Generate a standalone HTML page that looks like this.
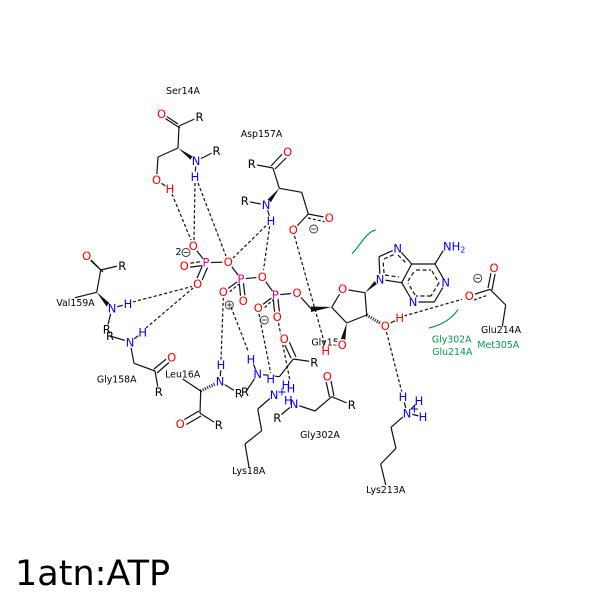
<!DOCTYPE html>
<html><head><meta charset="utf-8"><style>
html,body{margin:0;padding:0;background:#fff;width:600px;height:600px;overflow:hidden}
svg{display:block}
.b line,.b path{stroke:#111;stroke-width:1.2;fill:none}
.d line{stroke:#111;stroke-width:1.2;stroke-dasharray:3.2 2.2;fill:none}
.a text{font:11.5px "DejaVu Sans",sans-serif;text-anchor:middle;dominant-baseline:central}
.l text{font:9.4px "DejaVu Sans",sans-serif;text-anchor:middle;dominant-baseline:central;fill:#000}
.g text{font:9.4px "DejaVu Sans",sans-serif;text-anchor:middle;dominant-baseline:central;fill:#00994d}
.o{fill:#ff0000}.n{fill:#0000ff}.p{fill:#e6009a}.k{fill:#000}
.w circle{fill:#fff}
</style></head><body>
<svg width="600" height="600" viewBox="0 0 600 600" xmlns="http://www.w3.org/2000/svg">
<rect width="600" height="600" fill="#fff"/>
<g class="b">
<!-- Ser14A -->
<line x1="160" y1="112" x2="178" y2="124"/><line x1="163" y1="117" x2="180" y2="128"/>
<line x1="179" y1="126" x2="199" y2="117"/><line x1="179" y1="126" x2="178" y2="148"/>
<line x1="178" y1="148" x2="158" y2="157"/><line x1="158" y1="157" x2="156.5" y2="180"/>
<line x1="196" y1="161" x2="216" y2="151"/><line x1="196" y1="161" x2="195" y2="177"/>
<line x1="156.5" y1="180" x2="170" y2="189"/>
<!-- Asp157A -->
<line x1="286" y1="150" x2="271" y2="166"/><line x1="290" y1="154" x2="275" y2="169"/>
<line x1="252" y1="164" x2="273" y2="168"/><line x1="273" y1="168" x2="279.3" y2="188.3"/>
<line x1="279.3" y1="188.3" x2="301.7" y2="192.3"/><line x1="301.7" y1="192.3" x2="308.3" y2="214"/>
<line x1="308.3" y1="214" x2="329" y2="218"/><line x1="308" y1="218" x2="326" y2="222" stroke-dasharray="3 2"/>
<line x1="308.3" y1="214" x2="293.3" y2="230"/>
<line x1="245" y1="201" x2="266" y2="205"/><line x1="266" y1="205" x2="271" y2="221"/>
<!-- Val159A -->
<line x1="85" y1="254" x2="99" y2="268"/><line x1="88" y1="258" x2="103" y2="272"/>
<line x1="100.7" y1="270" x2="122" y2="265"/><line x1="100.7" y1="270" x2="96.7" y2="292.3"/>
<line x1="96.7" y1="292.3" x2="75" y2="297.7"/>
<line x1="112" y1="308" x2="107" y2="329"/><line x1="112" y1="308" x2="128" y2="304"/>
<!-- Gly158A -->
<line x1="110" y1="336" x2="130" y2="342"/><line x1="130" y1="342" x2="142.7" y2="332.3"/>
<line x1="130" y1="342" x2="134" y2="363.3"/><line x1="134" y1="363.3" x2="155" y2="371"/>
<line x1="154" y1="369" x2="170" y2="356"/><line x1="157" y1="373" x2="173" y2="359"/>
<line x1="155" y1="371" x2="158.7" y2="392"/>
<!-- Leu16A -->
<line x1="182.7" y1="379" x2="200.7" y2="391"/><line x1="200.7" y1="391" x2="200" y2="413.3"/>
<line x1="199" y1="411" x2="180" y2="422"/><line x1="201" y1="416" x2="182" y2="427"/>
<line x1="200" y1="413.3" x2="218.7" y2="425"/>
<line x1="220" y1="381.7" x2="238.7" y2="393.3"/><line x1="220" y1="381.7" x2="221" y2="365"/>
<!-- Lys/Gly ambiguous group -->
<line x1="257.7" y1="374" x2="245.7" y2="392"/><line x1="257.7" y1="374" x2="251" y2="359"/>
<line x1="257.7" y1="374" x2="279.3" y2="376.7"/><line x1="279.3" y1="376.7" x2="293.3" y2="359"/>
<line x1="282" y1="339" x2="291" y2="358"/><line x1="287" y1="337" x2="296" y2="357"/>
<line x1="293.3" y1="359" x2="314" y2="362"/>
<!-- Lys18A -->
<line x1="274" y1="395" x2="257.7" y2="409"/><line x1="257.7" y1="409" x2="261.7" y2="430.7"/>
<line x1="261.7" y1="430.7" x2="245" y2="444"/><line x1="245" y1="444" x2="249" y2="467"/>
<!-- Gly302A -->
<line x1="294" y1="404" x2="277.3" y2="418"/><line x1="294" y1="404" x2="315" y2="411"/>
<line x1="315" y1="411" x2="331.7" y2="396.7"/>
<line x1="325" y1="377" x2="329.5" y2="397"/><line x1="330" y1="376" x2="334" y2="396"/>
<line x1="331.7" y1="396.7" x2="351.7" y2="405"/>
<!-- Phosphates -->
<line x1="193.3" y1="246" x2="206" y2="262.7"/>
<line x1="184.3" y1="264" x2="206" y2="261" stroke-dasharray="4 2"/><line x1="184.3" y1="268" x2="206" y2="265"/>
<line x1="195" y1="283" x2="204" y2="262"/><line x1="200" y1="285" x2="209" y2="264"/>
<line x1="206" y1="262.7" x2="228.3" y2="262"/><line x1="228.3" y1="262" x2="241" y2="279"/>
<line x1="241" y1="279" x2="262.3" y2="277"/>
<line x1="223.3" y1="292" x2="241" y2="279"/><line x1="226" y1="295" x2="239" y2="284" stroke-dasharray="3 2"/>
<line x1="239" y1="280" x2="241" y2="301"/><line x1="243" y1="279" x2="245.5" y2="301"/>
<line x1="262.3" y1="277" x2="275.3" y2="295"/><line x1="275.3" y1="295" x2="297" y2="293"/>
<line x1="258.3" y1="308" x2="275.3" y2="295"/><line x1="261" y1="311" x2="273" y2="300" stroke-dasharray="3 2"/>
<line x1="273" y1="296" x2="275" y2="317"/><line x1="277.5" y1="295" x2="280" y2="317"/>
<line x1="297" y1="293" x2="311.7" y2="309.3"/>
<!-- Ribose -->
<line x1="331.7" y1="307.3" x2="342.7" y2="289"/><line x1="342.7" y1="289" x2="365" y2="292.7"/>
<line x1="365" y1="292.7" x2="366.7" y2="315"/><line x1="366.7" y1="315" x2="346.7" y2="323"/>
<line x1="346.7" y1="323" x2="331.7" y2="307.3"/>
<!-- O2' H -->
<line x1="385.3" y1="326" x2="399.7" y2="318"/>
<!-- Adenine -->
<line x1="380" y1="279.3" x2="379" y2="256.7"/><line x1="379" y1="256.7" x2="397.7" y2="248.3"/>
<line x1="397.7" y1="248.3" x2="411.7" y2="264"/><line x1="411.7" y1="264" x2="435" y2="264"/>
<line x1="435" y1="264" x2="445.7" y2="282.7"/><line x1="445.7" y1="282.7" x2="434.3" y2="302"/>
<line x1="434.3" y1="302" x2="413" y2="302"/><line x1="413" y1="302" x2="401.7" y2="282.7"/>
<line x1="401.7" y1="282.7" x2="411.7" y2="264"/><line x1="401.7" y1="282.7" x2="380" y2="279.3"/>
<line x1="435" y1="264" x2="446" y2="246"/>
<g stroke-dasharray="4 2.5">
<line x1="416" y1="270" x2="431" y2="270"/><line x1="432" y1="271" x2="439" y2="283"/>
<line x1="439" y1="283" x2="431" y2="296"/><line x1="431" y1="296" x2="416" y2="296"/>
<line x1="415" y1="295" x2="408" y2="283"/><line x1="408" y1="281" x2="415" y2="270"/>
<line x1="384" y1="273" x2="383" y2="260"/><line x1="384" y1="259" x2="395" y2="254"/>
<line x1="398" y1="255" x2="406" y2="263"/><line x1="385" y1="275" x2="399" y2="277"/>
</g>
<!-- Glu214A -->
<line x1="469.3" y1="296" x2="490" y2="289.3"/><line x1="474" y1="300" x2="488" y2="295" stroke-dasharray="3 2"/>
<line x1="488" y1="288" x2="492" y2="268"/><line x1="492" y1="290" x2="496" y2="269"/>
<line x1="490" y1="289.3" x2="505.7" y2="305"/><line x1="505.7" y1="305" x2="502.3" y2="326.7"/>
<!-- Lys213A -->
<line x1="407" y1="413.3" x2="403" y2="397"/><line x1="407" y1="413.3" x2="391" y2="427.3"/>
<line x1="391" y1="427.3" x2="396" y2="448.3"/><line x1="396" y1="448.3" x2="380.7" y2="464"/>
<line x1="380.7" y1="464" x2="385.7" y2="485"/>
<line x1="407" y1="413" x2="419" y2="401"/><line x1="407" y1="413" x2="423" y2="417"/>
</g>
<!-- wedges -->
<g fill="#111">
<polygon points="178,148 197,159 194,163"/>
<polygon points="279.3,188.3 268,207 264,203"/>
<polygon points="96.7,292.3 113,306 109,310"/>
<polygon points="365,292.7 381,281 378,277"/>
<polygon points="346.7,323 345,345 339,344"/>
<polygon points="331.7,307 311,306.5 311,312"/>
</g>
<g fill="none" stroke="#111" stroke-width="3.2" stroke-dasharray="1 1.4">
<line x1="200.7" y1="391" x2="218" y2="382.5"/>
<line x1="366.7" y1="315" x2="385" y2="326"/>
</g>
<!-- dashed h-bonds -->
<g class="d">
<line x1="172" y1="194" x2="191" y2="240"/><line x1="195" y1="183" x2="194" y2="240"/>
<line x1="198" y1="183" x2="226" y2="256"/>
<line x1="269.7" y1="226" x2="263.5" y2="270"/><line x1="266" y1="225.7" x2="233" y2="258"/>
<line x1="294.5" y1="236" x2="325" y2="345"/>
<line x1="132.7" y1="302" x2="192" y2="286.5"/><line x1="145.7" y1="328.3" x2="193" y2="288"/>
<line x1="221" y1="360" x2="223.3" y2="298"/><line x1="231" y1="307" x2="248.5" y2="352"/>
<line x1="259" y1="314" x2="270.7" y2="373"/><line x1="278.5" y1="323" x2="290" y2="381"/>
<line x1="404" y1="316" x2="462" y2="299.3"/><line x1="386.5" y1="332" x2="401.7" y2="391.7"/>
</g>
<!-- green arcs -->
<g fill="none" stroke="#00994d" stroke-width="1.2">
<path d="M352 253.7 C360 246 366 232 375.7 230"/>
<path d="M429 328 C441 325 452 319 458 309.3"/>
</g>
<!-- white knockouts -->
<g class="w">
<circle cx="161.5" cy="114" r="6"/><circle cx="199.5" cy="117" r="5.5"/><circle cx="196" cy="161" r="5.5"/><circle cx="216.5" cy="151" r="5.5"/>
<circle cx="156.5" cy="180" r="6"/><circle cx="170" cy="189" r="5.5"/><circle cx="195" cy="177" r="5.5"/>
<circle cx="287.7" cy="152" r="6"/><circle cx="251.7" cy="164" r="5.5"/><circle cx="329.3" cy="218" r="6"/><circle cx="293.3" cy="230" r="6"/>
<circle cx="266" cy="205" r="5.5"/><circle cx="244.7" cy="201" r="5.5"/><circle cx="271" cy="221" r="5.5"/>
<circle cx="86.7" cy="256" r="6"/><circle cx="122.3" cy="266" r="5.5"/><circle cx="112" cy="308.3" r="5.5"/><circle cx="128" cy="304" r="5.5"/>
<circle cx="106.7" cy="329.3" r="5"/><circle cx="130" cy="342.3" r="5.5"/><circle cx="142.7" cy="332.3" r="5.5"/>
<circle cx="171.7" cy="357.3" r="6"/><circle cx="158.7" cy="392" r="5.5"/><circle cx="220" cy="381.7" r="5.5"/><circle cx="221" cy="365" r="5.5"/>
<circle cx="238.7" cy="393.3" r="5.5"/><circle cx="180.3" cy="424" r="6"/><circle cx="218.7" cy="425" r="5.5"/>
<circle cx="257.7" cy="374" r="5.5"/><circle cx="251" cy="359.3" r="5.5"/><circle cx="270.7" cy="379" r="5"/>
<circle cx="284.3" cy="339" r="6"/><circle cx="314.3" cy="362.3" r="5.5"/><circle cx="274" cy="395" r="5.5"/>
<circle cx="294" cy="404" r="5.5"/><circle cx="277.3" cy="418" r="5.5"/><circle cx="327.3" cy="376.3" r="6"/><circle cx="351.7" cy="405" r="5.5"/>
<circle cx="193.3" cy="246" r="6"/><circle cx="206" cy="262.7" r="5"/><circle cx="184.3" cy="266" r="6"/><circle cx="228.3" cy="262" r="6"/>
<circle cx="197.7" cy="284" r="6"/><circle cx="241" cy="279" r="5"/><circle cx="223.3" cy="292" r="6"/><circle cx="243.3" cy="301" r="6"/>
<circle cx="262.3" cy="277" r="6"/><circle cx="275.3" cy="295" r="5"/><circle cx="258.3" cy="308" r="6"/><circle cx="277.3" cy="317" r="6"/><circle cx="297" cy="293" r="6"/>
<circle cx="342.7" cy="289" r="6"/><circle cx="385.3" cy="326" r="6"/><circle cx="399.7" cy="318" r="5.5"/>
<circle cx="380" cy="279.3" r="5.5"/><circle cx="397.7" cy="248.3" r="5.5"/><circle cx="413" cy="302" r="5.5"/><circle cx="445.7" cy="282.7" r="5.5"/><circle cx="446" cy="246" r="5.5"/>
<circle cx="469.3" cy="296" r="6"/><circle cx="494" cy="268" r="6"/>
<circle cx="403" cy="397" r="5.5"/><circle cx="407" cy="413.3" r="5.5"/><circle cx="419" cy="401" r="5"/><circle cx="423" cy="417" r="5"/>
</g>
<!-- charge symbols -->
<g fill="none" stroke="#333" stroke-width="0.9">
<circle cx="186" cy="252.5" r="4"/><line x1="183.5" y1="252.5" x2="188.5" y2="252.5"/>
<circle cx="229.3" cy="305" r="4"/><line x1="226.8" y1="305" x2="231.8" y2="305"/><line x1="229.3" y1="302.5" x2="229.3" y2="307.5"/>
<circle cx="264.3" cy="320" r="4"/><line x1="261.8" y1="320" x2="266.8" y2="320"/>
<circle cx="313.7" cy="229" r="4"/><line x1="311.2" y1="229" x2="316.2" y2="229"/>
<circle cx="477.7" cy="278.3" r="4"/><line x1="475.2" y1="278.3" x2="480.2" y2="278.3"/>
</g>
<!-- residue labels -->
<g class="l">
<text x="183" y="91.5">Ser14A</text><text x="261.5" y="134.5">Asp157A</text><text x="75.5" y="303.5">Val159A</text>
<text x="116.7" y="380">Gly158A</text><text x="182.7" y="375">Leu16A</text><text x="248.7" y="471.7">Lys18A</text>
<text x="320" y="435.7">Gly302A</text><text x="385.7" y="490.7">Lys213A</text><text x="501" y="330.7">Glu214A</text>
<text x="325" y="343">Gly15</text>
<text x="181.5" y="252.5" style="text-anchor:end">2</text>
</g>
<g class="g">
<text x="451.7" y="340">Gly302A</text><text x="452.3" y="352.7">Glu214A</text><text x="498.3" y="345.3">Met305A</text>
</g>
<circle cx="342.3" cy="345" r="6" fill="#fff"/>
<!-- atoms -->
<g class="a">
<text class="o" x="161.5" y="114">O</text><text class="k" x="199.5" y="117">R</text><text class="n" x="196" y="161">N</text><text class="k" x="216.5" y="151">R</text>
<text class="o" x="156.5" y="180">O</text><text class="o" x="170" y="189">H</text><text class="n" x="195" y="177">H</text>
<text class="o" x="287.7" y="152">O</text><text class="k" x="251.7" y="164">R</text><text class="o" x="329.3" y="218">O</text><text class="o" x="293.3" y="230">O</text>
<text class="n" x="266" y="205">N</text><text class="k" x="244.7" y="201">R</text><text class="n" x="271" y="221">H</text>
<text class="o" x="86.7" y="256">O</text><text class="k" x="122.3" y="266">R</text><text class="n" x="112" y="308.3">N</text><text class="n" x="128" y="304">H</text>
<text class="k" x="106.7" y="329.3">R</text><text class="k" x="110" y="336">R</text><text class="n" x="130" y="342.3">N</text><text class="n" x="142.7" y="332.3">H</text>
<text class="o" x="171.7" y="357.3">O</text><text class="k" x="158.7" y="392">R</text>
<text class="n" x="220" y="381.7">N</text><text class="n" x="221" y="365">H</text><text class="k" x="238.7" y="393.3">R</text><text class="k" x="245" y="392">R</text>
<text class="o" x="180.3" y="424">O</text><text class="k" x="218.7" y="425">R</text>
<text class="n" x="257.7" y="374">N</text><text class="n" x="251" y="359.3">H</text><text class="n" x="270.7" y="379">H</text>
<text class="o" x="284.3" y="339">O</text><text class="k" x="314.3" y="362.3">R</text>
<text class="n" x="274" y="395">N</text><text class="n" x="282" y="391.5">+</text><text class="n" x="286" y="385">H</text><text class="n" x="291" y="388.3">H</text><text class="n" x="288.3" y="400.7">H</text>
<text class="n" x="294" y="404">N</text><text class="k" x="277.3" y="418">R</text><text class="o" x="327.3" y="376.3">O</text><text class="k" x="351.7" y="405">R</text>
<text class="o" x="193.3" y="246">O</text><text class="p" x="206" y="262.7">P</text><text class="o" x="184.3" y="266">O</text><text class="o" x="228.3" y="262">O</text>
<text class="o" x="197.7" y="284">O</text><text class="p" x="241" y="279">P</text><text class="o" x="223.3" y="292">O</text><text class="o" x="243.3" y="301">O</text>
<text class="o" x="262.3" y="277">O</text><text class="p" x="275.3" y="295">P</text><text class="o" x="258.3" y="308">O</text><text class="o" x="277.3" y="317">O</text><text class="o" x="297" y="293">O</text>
<text class="o" x="342.7" y="289">O</text><text class="o" x="342.3" y="345">O</text><text class="o" x="325.7" y="351">H</text>
<text class="o" x="385.3" y="326">O</text><text class="o" x="399.7" y="318">H</text>
<text class="n" x="380" y="279.3">N</text><text class="n" x="397.7" y="248.3">N</text><text class="n" x="413" y="302">N</text><text class="n" x="445.7" y="282.7">N</text>
<text class="n" x="443" y="246.5" style="text-anchor:start">NH<tspan font-size="8" dy="3">2</tspan></text>
<text class="o" x="469.3" y="296">O</text><text class="o" x="494" y="268">O</text>
<text class="n" x="403" y="397">H</text><text class="n" x="407" y="413.3">N</text><text class="n" x="414.5" y="408.5">+</text><text class="n" x="419" y="401">H</text><text class="n" x="423" y="417">H</text>
</g>
<text x="15" y="585" font-family="'DejaVu Sans',sans-serif" font-size="35" fill="#000">1atn:ATP</text>
</svg>
</body></html>
